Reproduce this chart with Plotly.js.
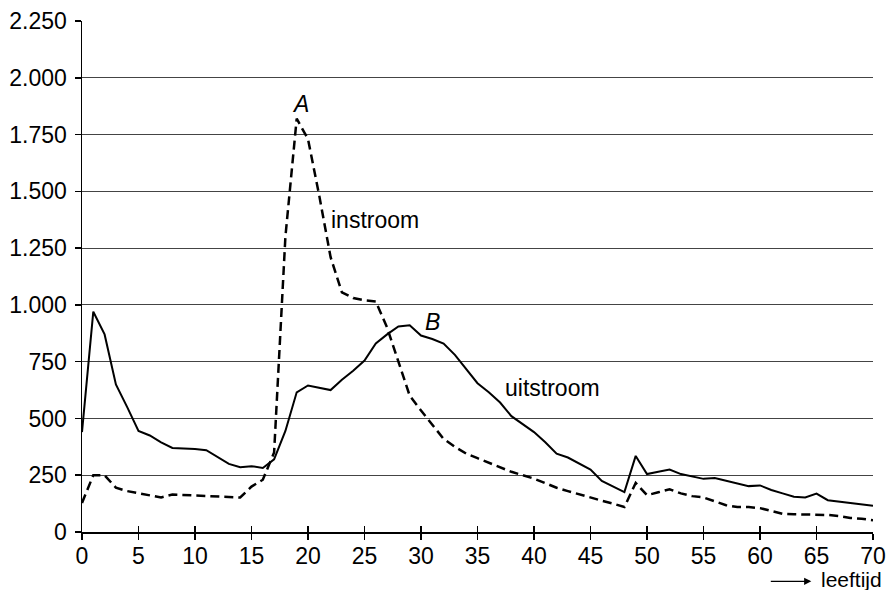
<!DOCTYPE html>
<html>
<head>
<meta charset="utf-8">
<script src="https://cdn.plot.ly/plotly-3.0.1.min.js"></script>
<style>html,body{margin:0;padding:0;background:#fff;}#chart{width:890px;height:590px;}</style>
</head>
<body>
<div id="chart"></div>
<script>
const leeftijd = [];
for (let i = 0; i <= 70; i++) leeftijd.push(i);

const instroom = [128,250,250,195,180,170,160,152,165,163,
  160,158,157,155,152,200,230,350,1300,1820,
  1730,1480,1210,1055,1030,1020,1015,900,750,600,
  535,475,410,375,345,325,305,285,265,250,
  235,215,195,180,165,150,138,125,110,216,
  162,175,188,170,158,152,135,118,110,110,
  105,92,80,78,78,78,75,70,62,58,52];

const uitstroom = [440,970,870,650,550,445,425,395,370,368,
  365,360,330,300,285,290,282,320,445,615,
  645,635,625,670,710,755,830,870,905,910,
  865,850,830,780,720,655,615,570,510,475,
  440,395,345,328,300,275,225,200,176,335,
  255,265,275,255,243,234,238,225,214,202,
  205,185,170,155,152,169,140,133,127,120,115];

const yTicks = [0,250,500,750,1000,1250,1500,1750,2000,2250];
const xTicks = [0,5,10,15,20,25,30,35,40,45,50,55,60,65,70];

const font = {family: 'Liberation Sans, Arial, sans-serif', size: 23, color: '#000'};
const smallFont = {family: 'Liberation Sans, Arial, sans-serif', size: 21, color: '#000'};

const traces = [
  {x: leeftijd, y: instroom, type: 'scatter', mode: 'lines', name: 'instroom',
   line: {color: '#000', width: 2.5, dash: '9px,5px'}},
  {x: leeftijd, y: uitstroom, type: 'scatter', mode: 'lines', name: 'uitstroom',
   line: {color: '#000', width: 2}},
  {x: [0], y: [0], xaxis: 'x2', yaxis: 'y', mode: 'markers', marker: {opacity: 0}, hoverinfo: 'skip', showlegend: false}
];

const layout = {
  width: 890, height: 590,
  margin: {l: 82, r: 17, t: 21, b: 58},
  paper_bgcolor: '#fff', plot_bgcolor: '#fff',
  showlegend: false,
  separators: ',.',
  font: font,
  xaxis: {range: [0, 70], tickvals: xTicks, ticks: 'outside', ticklen: 6, tickwidth: 1.5, tickcolor: '#000',
          showline: true, linecolor: '#000', linewidth: 1.5, showgrid: false, zeroline: false,
          tickfont: font, fixedrange: true, ticklabelstandoff: -3},
  xaxis2: {range: [0, 70], overlaying: 'x', anchor: 'y', side: 'bottom', tickvals: xTicks, ticks: 'inside',
           ticklen: 6, tickwidth: 1.5, tickcolor: '#000', showticklabels: false, showgrid: false,
           zeroline: false, showline: false},
  yaxis: {range: [0, 2250], tickvals: yTicks, tickformat: ',d', ticks: 'outside', ticklen: 6, tickwidth: 1.5,
          tickcolor: '#000', showline: true, linecolor: '#000', linewidth: 1.5, showgrid: true,
          gridcolor: '#444', gridwidth: 1, zeroline: false, tickfont: font, fixedrange: true,
          ticklabelstandoff: 3},
  annotations: [
    {x: 19.3, y: 1885, text: '<i>A</i>', showarrow: false, font: font, xanchor: 'center', yanchor: 'middle'},
    {x: 21.9, y: 1375, text: 'instroom', showarrow: false, font: font, xanchor: 'left', yanchor: 'middle'},
    {x: 31.0, y: 925, text: '<i>B</i>', showarrow: false, font: font, xanchor: 'center', yanchor: 'middle'},
    {x: 37.3, y: 633, text: 'uitstroom', showarrow: false, font: font, xanchor: 'left', yanchor: 'middle'},
    {xref: 'paper', yref: 'paper', x: 1.0125, y: -0.0925, text: 'leeftijd', showarrow: false, font: smallFont,
     xanchor: 'right', yanchor: 'middle', borderpad: 0},
    {xref: 'paper', yref: 'paper', x: 0.922, y: -0.0965, text: '', showarrow: true, ax: -42, ay: 0,
     arrowhead: 2, arrowsize: 1.2, arrowwidth: 1.2, arrowcolor: '#000'}
  ]
};

Plotly.newPlot('chart', traces, layout, {staticPlot: true});
</script>
</body>
</html>
